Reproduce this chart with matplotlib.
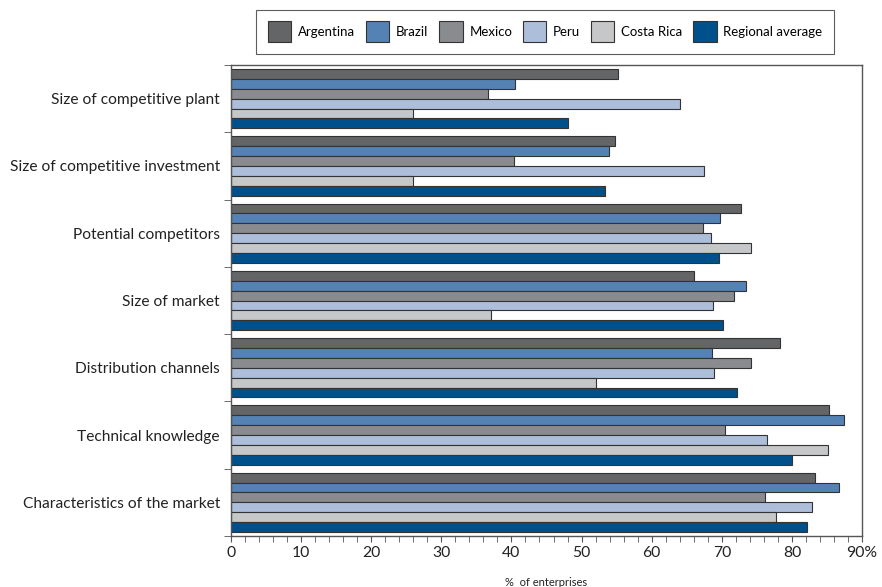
import matplotlib.pyplot as plt
import numpy as np

plt.rcParams['font.family'] = ['Lato', 'DejaVu Sans']

categories = ["Size of competitive plant", "Size of competitive investment",
              "Potential competitors", "Size of market", "Distribution channels",
              "Technical knowledge", "Characteristics of the market"]
series = ["Argentina", "Brazil", "Mexico", "Peru", "Costa Rica", "Regional average"]
argentina = [55.2, 54.8, 72.8, 66.0, 78.3, 85.3, 83.3]
brazil = [40.5, 53.9, 69.7, 73.4, 68.6, 87.5, 86.7]
mexico = [36.7, 40.3, 67.3, 71.7, 74.1, 70.5, 76.2]
peru = [64.0, 67.4, 68.5, 68.8, 68.9, 76.4, 82.9]
costa_rica = [26.0, 26.0, 74.1, 37.1, 52.0, 85.2, 77.8]
regional = [48.1, 53.4, 69.6, 70.2, 72.2, 80.0, 82.2]
colors = ["#646567", "#5582b4", "#8a8b8e", "#adbedb", "#c6c7c8", "#00508c"]

values = [argentina, brazil, mexico, peru, costa_rica, regional]

fig = plt.figure(figsize=(8.82, 5.87), dpi=100)
ax = fig.add_axes([231/882, 1 - 536/587, 631/882, 471/587])

n = len(categories)
h = 0.88 / 6
y0 = np.arange(n)[::-1]  # top category first
for i, (name, vals) in enumerate(zip(series, values)):
    y = y0 + 0.44 - h * (i + 0.5)
    ax.barh(y, vals, height=h, color=colors[i], edgecolor="#333333",
            linewidth=0.8, label=name)

ax.set_xlim(0, 90)
ax.set_ylim(-0.5, n - 0.5)
ax.set_xticks(range(0, 91, 10))
ax.set_xticklabels([str(v) for v in range(0, 90, 10)] + ["90%"], fontsize=11.3, color="#222222")
ax.set_xticks(range(0, 91, 2), minor=True)
ax.set_yticks(y0)
ax.set_yticklabels(categories, fontsize=11.2, color="#222222")
ax.tick_params(axis='y', length=0, pad=8)
ax.set_yticks(np.arange(-0.5, n, 1), minor=True)
ax.tick_params(axis='y', which='minor', length=5, color="#555555")
ax.tick_params(axis='x', which='both', length=4, color="#555555", direction='out')
ax.set_xlabel("%  of enterprises", fontsize=8, color="#222222", labelpad=12)
for s in ax.spines.values():
    s.set_color("#555555")
    s.set_linewidth(1.0)

handles, labels = ax.get_legend_handles_labels()
leg = fig.legend(handles, labels, loc='upper center', ncol=6,
                 bbox_to_anchor=(545/882, 1 - 3/587), frameon=True, fancybox=False,
                 edgecolor="#333333", fontsize=9.5, handlelength=1.8, handleheight=2.0,
                 columnspacing=0.8, handletextpad=0.5, borderpad=0.9)
leg.get_frame().set_linewidth(0.8)

fig.savefig("out.png", dpi=100)
